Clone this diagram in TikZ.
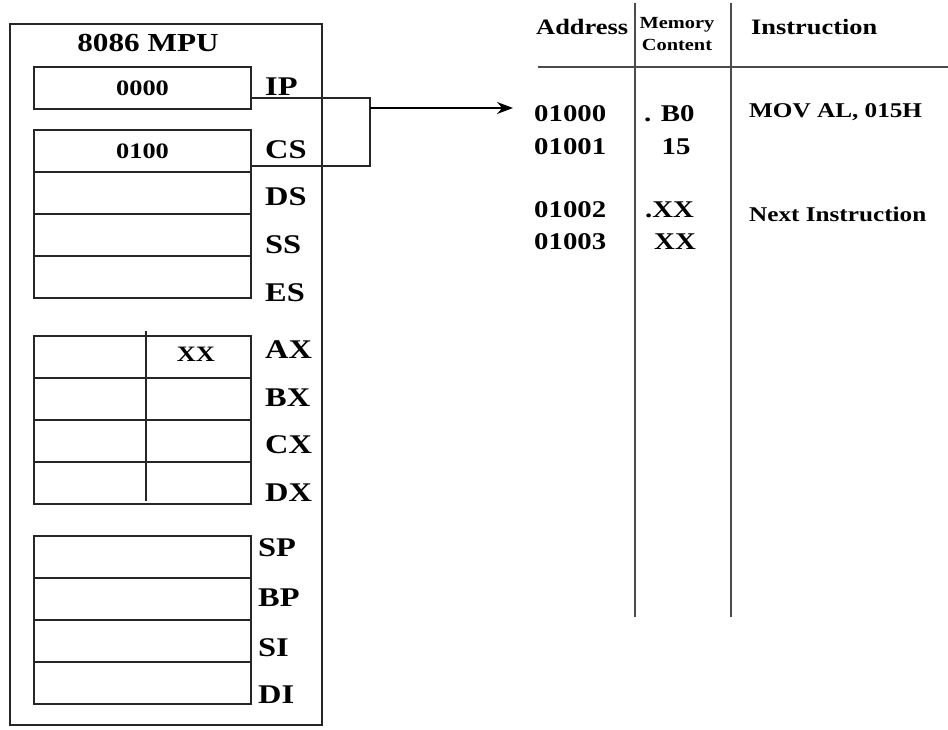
\documentclass[tikz,border=0pt]{standalone}
\usepackage{fontspec}
\setmainfont{Liberation Serif}[FakeStretch=1.2]
\usetikzlibrary{positioning, arrows.meta}
\tikzstyle{reg} = [rectangle, draw=black!85, line width=2pt, minimum width=217pt, minimum height=42pt, outer sep=0pt, inner sep=0pt, font=\bfseries\fontsize{22}{22}\selectfont]
\tikzstyle{lbl} = [anchor=west, inner sep=0pt, font=\bfseries\fontsize{27}{27}\selectfont]
\tikzstyle{cell} = [inner sep=0pt, font=\bfseries\fontsize{24}{24}\selectfont]
\tikzstyle{tbl} = [line width=2.5pt, draw=black!70]
\tikzstyle{arrow} = [-{Stealth[length=16pt, width=12pt]}, line width=1.6pt]

\begin{document}
\begin{tikzpicture}[x=1pt, y=-1pt]
\useasboundingbox (0,0) rectangle (948,729);

\node (mpu) [rectangle, draw=black!85, line width=2pt, minimum width=312pt, minimum height=701pt] at (166,374.5) {};
\node (title) [inner sep=0pt, font=\bfseries\fontsize{26}{26}\selectfont] at (148,43) {8086 MPU};

% segment registers
\node (ip) [reg] at (142.5,88) {0000};
\node (cs) [reg] at (142.5,151) {0100};
\node (ds) [reg, below=0pt of cs] {};
\node (ss) [reg, below=0pt of ds] {};
\node (es) [reg, below=0pt of ss] {};

% general registers
\node (ax) [reg] at (142.5,357) {};
\node (bx) [reg, below=0pt of ax] {};
\node (cx) [reg, below=0pt of bx] {};
\node (dx) [reg, below=0pt of cx] {};
\draw[line width=2pt, black!85] (146,331) -- (146,501);
\node (al) [cell, font=\bfseries\fontsize{22}{22}\selectfont] at (196,354) {XX};

% pointer and index registers
\node (sp) [reg] at (142.5,557) {};
\node (bp) [reg, below=0pt of sp] {};
\node (si) [reg, below=0pt of bp] {};
\node (di) [reg, below=0pt of si] {};

\node (lip) [lbl] at (265,87) {IP};
\node (lcs) [lbl] at (265,150) {CS};
\node (lds) [lbl] at (265,197) {DS};
\node (lss) [lbl] at (265,245) {SS};
\node (les) [lbl] at (265,293) {ES};
\node (lax) [lbl] at (265,350) {AX};
\node (lbx) [lbl] at (265,398) {BX};
\node (lcx) [lbl] at (265,445) {CX};
\node (ldx) [lbl] at (265,493) {DX};
\node (lsp) [lbl] at (258,548) {SP};
\node (lbp) [lbl] at (258,598) {BP};
\node (lsi) [lbl] at (258,648) {SI};
\node (ldi) [lbl] at (258,695) {DI};

% memory table
\draw[tbl] (635,3) -- (635,617);
\draw[tbl] (731,3) -- (731,617);
\draw[tbl] (538,67) -- (948,67);
\node (haddr) [cell, anchor=west, font=\bfseries\fontsize{22}{22}\selectfont] at (536,27) {Address};
\node (hmem) [cell, align=center, font=\bfseries\fontsize{17}{22}\selectfont] at (677,34) {Memory\\Content};
\node (hins) [cell, anchor=west, font=\bfseries\fontsize{22}{22}\selectfont] at (751,27) {Instruction};

\node (addr1) [cell, anchor=west] at (534,114) {01000};
\node (addr2) [cell, anchor=west] at (534,147) {01001};
\node (addr3) [cell, anchor=west] at (534,210) {01002};
\node (addr4) [cell, anchor=west] at (534,242) {01003};
\node (mem1) [cell, anchor=west] at (644,114) {. B0};
\node (mem2) [cell] at (676,147) {15};
\node (mem3) [cell, anchor=west] at (645,210) {.XX};
\node (mem4) [cell, anchor=west] at (654,242) {XX};
\node (ins1) [cell, anchor=west, font=\bfseries\fontsize{21}{21}\selectfont] at (749,112) {MOV AL, 015H};
\node (ins3) [cell, anchor=west, font=\bfseries\fontsize{21}{21}\selectfont] at (749,214) {Next Instruction};

% CS:IP points into memory
\coordinate (join) at (370,108);
\draw[line width=1.6pt, black!85] ([yshift=-10pt]ip.east) -| (join) |- ([yshift=-15pt]cs.east);
\draw[arrow] (join) -- ([xshift=-21pt]addr1.west |- join);

\end{tikzpicture}
\end{document}
